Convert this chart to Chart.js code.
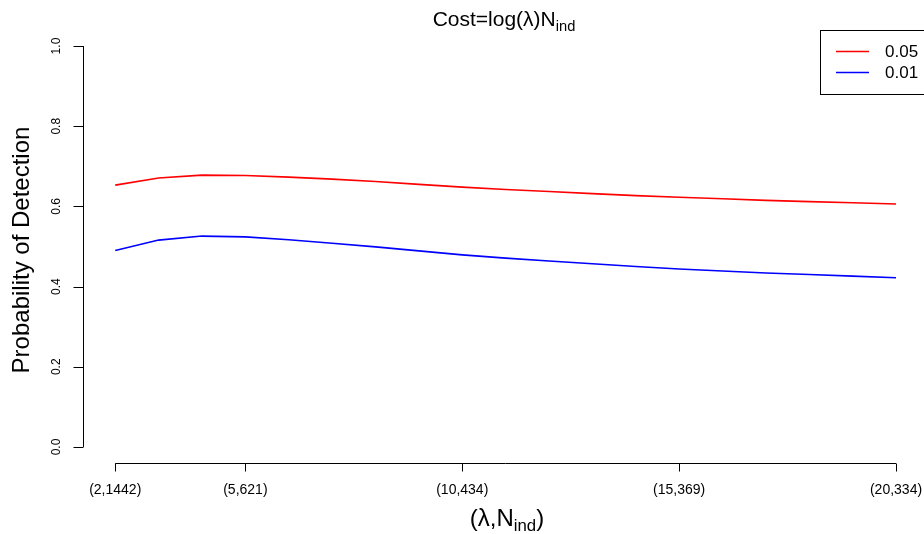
<!DOCTYPE html>
<html>
<head>
<meta charset="utf-8">
<script src="https://cdn.jsdelivr.net/npm/chart.js@4.4.0/dist/chart.umd.min.js"></script>
<style>
  html, body { margin: 0; padding: 0; background: #fff; overflow: hidden; }
  #wrap { width: 924px; height: 534px; position: relative; }
</style>
</head>
<body>
<div id="wrap"><canvas id="myChart" width="924" height="534"></canvas></div>
<script>
// lambda values along x
var lambda = [2,3,4,5,6,7,8,9,10,11,12,13,14,15,16,17,18,19,20]

// probability of detection, one series per alpha
var p05 = [0.653,0.671,0.678,0.677,0.673,0.668,0.662,0.655,0.648,0.642,0.637,0.632,0.627,0.623,0.619,0.615,0.612,0.609,0.606]
var p01 = [0.490,0.516,0.526,0.524,0.517,0.508,0.499,0.489,0.479,0.471,0.464,0.457,0.450,0.444,0.439,0.434,0.430,0.426,0.422]

var seriesNames = ["0.05","0.01"]

// x tick labels (lambda, N_ind)
var tickLambda = [2,5,10,15,20]
var tickN = [1442,621,434,369,334]

var yTicks = [0,0.2,0.4,0.6,0.8,1.0]

var FONT = "'Liberation Sans', Arial, Helvetica, sans-serif"

function pts(ys){
  var out = []
  for (var i = 0; i < lambda.length; i++) out.push({x: lambda[i], y: ys[i]})
  return out
}

// draws text followed by a subscript, centred on cx
function subText(ctx, pre, sub, post, cx, y, size){
  var subSize = size * 0.7
  ctx.font = size + "px " + FONT
  var w1 = ctx.measureText(pre).width
  var w3 = ctx.measureText(post).width
  ctx.font = subSize + "px " + FONT
  var w2 = ctx.measureText(sub).width
  var x = cx - (w1 + w2 + w3) / 2
  ctx.textAlign = "left"
  ctx.textBaseline = "alphabetic"
  ctx.font = size + "px " + FONT
  ctx.fillText(pre, x, y)
  ctx.font = subSize + "px " + FONT
  ctx.fillText(sub, x + w1, y + size * 0.22)
  ctx.font = size + "px " + FONT
  ctx.fillText(post, x + w1 + w2, y)
}

var rAxes = {
  id: "rAxes",
  afterDraw: function(chart){
    var ctx = chart.ctx
    var xs = chart.scales.x, ys = chart.scales.y
    var area = chart.chartArea
    ctx.save()
    ctx.strokeStyle = "#000"
    ctx.fillStyle = "#000"
    ctx.lineWidth = 1

    // x axis
    var yb = Math.round(area.bottom) + 0.5
    var x0 = xs.getPixelForValue(tickLambda[0]), x1 = xs.getPixelForValue(tickLambda[tickLambda.length-1])
    ctx.beginPath()
    ctx.moveTo(x0, yb); ctx.lineTo(x1, yb)
    tickLambda.forEach(function(l){
      var px = Math.round(xs.getPixelForValue(l)) + 0.5
      ctx.moveTo(px, yb); ctx.lineTo(px, yb + 8)
    })
    ctx.stroke()
    ctx.font = "14px " + FONT
    ctx.textAlign = "center"
    ctx.textBaseline = "middle"
    tickLambda.forEach(function(l, i){
      ctx.fillText("(" + l + "," + tickN[i] + ")", xs.getPixelForValue(l), 490)
    })

    // y axis
    var xl = Math.round(area.left) - 0.5
    ctx.beginPath()
    ctx.moveTo(xl, ys.getPixelForValue(0)); ctx.lineTo(xl, ys.getPixelForValue(1))
    yTicks.forEach(function(v){
      var py = Math.round(ys.getPixelForValue(v)) + 0.5
      ctx.moveTo(xl, py); ctx.lineTo(xl - 10, py)
    })
    ctx.stroke()
    ctx.font = "12px " + FONT
    yTicks.forEach(function(v){
      ctx.save()
      ctx.translate(57, ys.getPixelForValue(v))
      ctx.rotate(-Math.PI/2)
      ctx.fillText(v.toFixed(1), 0, 0)
      ctx.restore()
    })

    // y title
    ctx.save()
    ctx.translate(22, 250)
    ctx.rotate(-Math.PI/2)
    ctx.font = "24px " + FONT
    ctx.fillText("Probability of Detection", 0, 0)
    ctx.restore()

    // main title and x title
    subText(ctx, "Cost=log(\u03bb)N", "ind", "", 504, 26, 21)
    subText(ctx, "(\u03bb,N", "ind", ")", 507, 526, 24)

    // legend
    ctx.strokeRect(820.5, 30.5, 120, 64)
    var cols = [chart.data.datasets[0].borderColor, chart.data.datasets[1].borderColor]
    var ly = [51.5, 72.5]
    ctx.font = "17px " + FONT
    ctx.textAlign = "left"
    ctx.textBaseline = "middle"
    for (var i = 0; i < 2; i++){
      ctx.strokeStyle = cols[i]
      ctx.lineWidth = 1.5
      ctx.beginPath()
      ctx.moveTo(836, ly[i]); ctx.lineTo(869, ly[i])
      ctx.stroke()
      ctx.fillText(seriesNames[i], 885, ly[i] + 1)
    }
    ctx.restore()
  }
}

var chart = new Chart(document.getElementById("myChart").getContext("2d"), {
  type: "line",
  data: {
    datasets: [
      { label: seriesNames[0], data: pts(p05), borderColor: "#ff0000", borderWidth: 1.6, pointRadius: 0, tension: 0, fill: false },
      { label: seriesNames[1], data: pts(p01), borderColor: "#0000ff", borderWidth: 1.6, pointRadius: 0, tension: 0, fill: false }
    ]
  },
  options: {
    responsive: false,
    animation: false,
    devicePixelRatio: 1,
    layout: { padding: { left: 84, right: 0, top: 30, bottom: 71 } },
    plugins: { legend: { display: false }, tooltip: { enabled: false }, title: { display: false } },
    scales: {
      x: { type: "linear", min: 1.28, max: 20.645, display: false },
      y: { type: "linear", min: -0.04, max: 1.04, display: false }
    }
  },
  plugins: [rAxes]
})
</script>
</body>
</html>
